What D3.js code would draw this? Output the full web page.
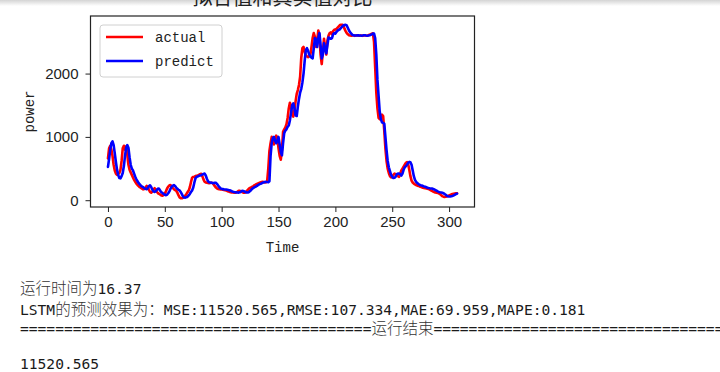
<!DOCTYPE html>
<html>
<head>
<meta charset="utf-8">
<script src="https://cdn.jsdelivr.net/npm/d3@7"></script>
<style>
  body { margin: 0; background: #fff; }
  svg { display: block; }
  .tick text { font-family: "Liberation Sans", Arial, sans-serif; font-size: 15px; fill: #222; }
  .tick line { stroke: #222; }
  .mono { font-family: "Liberation Mono", "DejaVu Sans Mono", monospace; font-size: 14px; fill: #222; }
  .out-ascii { font-family: "DejaVu Sans Mono", monospace; font-size: 14.6px; fill: #1a1a1a; }
  .out-cjk { font-family: "Noto Sans CJK SC", sans-serif; font-size: 15.5px; font-weight: 300; fill: #333; }
</style>
</head>
<body>
<svg id="chart" width="720" height="372"></svg>
<script>
// ---- data ----
const actual = [
  660,820,860,800,700,560,470,420,400,410,
  430,480,620,820,860,800,850,720,560,480,
  440,400,360,320,290,262,240,222,205,195,
  182,172,178,200,225,215,165,130,118,135,
  165,190,170,130,110,100,90,75,72,85,
  105,140,185,215,232,240,220,195,175,160,
  150,120,80,45,32,30,42,52,72,98,
  128,152,205,285,355,368,372,382,388,392,
  402,412,418,380,330,292,280,278,272,268,
  272,278,270,248,222,200,185,178,172,170,
  168,166,162,158,155,146,138,132,128,124,
  122,120,118,124,136,150,148,138,128,120,
  118,126,142,162,182,194,204,214,224,238,
  248,256,264,272,280,286,290,286,282,285,
  300,500,780,900,1000,940,880,960,1020,980,
  820,700,640,800,1080,1120,1150,1200,1300,1450,
  1540,1480,1360,1320,1420,1560,1680,1740,1820,1950,
  2250,2400,2420,2340,2290,2270,2260,2270,2300,2420,
  2560,2640,2580,2420,2520,2680,2600,2300,2150,2350,
  2550,2420,2300,2520,2600,2640,2650,2620,2670,2690,
  2695,2705,2725,2745,2765,2770,2772,2760,2710,2670,
  2640,2620,2605,2600,2598,2602,2600,2596,2600,2604,
  2600,2598,2602,2600,2596,2600,2603,2600,2598,2605,
  2612,2620,2630,2635,2500,2100,1700,1450,1300,1280,
  1330,1350,1330,1100,820,620,500,430,380,360,
  370,400,420,410,400,380,370,420,470,500,
  530,560,590,600,570,480,380,310,280,262,
  250,240,232,226,218,212,205,198,192,188,
  186,182,175,166,156,146,136,128,124,120,
  116,108,96,80,64,56,52,55,60,66,
  74,82,90,98,102,106,108,110
];

const predict = [
  526,650,800,900,930,870,740,600,480,400,
  350,345,380,430,540,700,830,870,830,680,
  560,500,470,420,370,330,300,270,250,230,
  215,205,190,180,175,190,220,235,210,170,
  140,130,140,165,185,180,150,125,115,100,
  85,80,90,110,140,180,210,230,238,225,
  200,180,165,155,130,95,60,42,40,48,
  55,75,100,130,155,200,280,350,370,375,
  385,390,395,405,415,420,390,340,300,285,
  280,275,270,272,276,274,255,230,205,188,
  180,175,172,170,168,165,160,158,150,142,
  135,130,126,124,122,120,125,135,147,145,
  138,130,122,121,130,145,165,184,195,205,
  215,225,240,250,258,265,275,282,288,290,
  288,285,300,700,900,980,1000,940,900,940,
  1000,880,760,710,900,1060,1100,1120,1160,1180,
  1260,1380,1500,1530,1450,1340,1330,1480,1600,1700,
  1760,1860,2000,2200,2370,2400,2360,2300,2270,2250,
  2240,2400,2560,2540,2420,2560,2640,2450,2240,2300,
  2480,2400,2320,2450,2570,2560,2550,2560,2620,2640,
  2630,2660,2680,2690,2700,2720,2740,2760,2765,2770,
  2760,2720,2680,2650,2630,2610,2605,2600,2600,2600,
  2605,2600,2600,2598,2600,2605,2604,2600,2598,2600,
  2605,2610,2620,2630,2630,2560,2300,1900,1650,1400,
  1280,1230,1220,1210,1000,790,620,520,460,400,
  370,350,355,370,410,420,420,410,390,420,
  480,520,540,560,590,605,600,560,470,380,
  320,290,270,255,245,237,232,225,218,212,
  205,198,192,188,186,184,178,170,160,150,
  140,131,126,122,118,110,100,85,70,63,
  58,60,64,68,75,85,95,105
];

const xTicks = [0, 50, 100, 150, 200, 250, 300];
const yTicks = [0, 1000, 2000];
const seriesNames = ['actual', 'predict'];
const seriesColors = ['#ff0000', '#0000ff'];
const titleText = '拟合值和真实值对比';
const xLabel = 'Time';
const yLabel = 'power';

// console output under the figure: [text, kind] segments per line
const outputLines = [
  [['运行时间为', 'cjk'], ['16.37', 'ascii']],
  [['LSTM', 'ascii'], ['的预测效果为：', 'cjk'], ['MSE:11520.565,RMSE:107.334,MAE:69.959,MAPE:0.181', 'ascii']],
  [['='.repeat(40), 'ascii'], ['运行结束', 'cjk'], ['='.repeat(40), 'ascii']],
  [],
  [['11520.565', 'ascii']]
];

// ---- layout ----
const svg = d3.select('#chart');
const plot = { left: 90.5, right: 474.5, top: 16, bottom: 207 };

// faint grey band at the very top (window edge shadow)
const defs = svg.append('defs');
const grad = defs.append('linearGradient').attr('id', 'topShade')
  .attr('x1', 0).attr('y1', 0).attr('x2', 0).attr('y2', 1);
grad.append('stop').attr('offset', '0%').attr('stop-color', '#d4d4d4');
grad.append('stop').attr('offset', '100%').attr('stop-color', '#ffffff');
svg.append('rect').attr('x', 0).attr('y', 0).attr('width', 720).attr('height', 6)
  .attr('fill', 'url(#topShade)');

const n = actual.length;
const xPad = (n - 1) * 0.05;
const x = d3.scaleLinear().domain([-xPad, n - 1 + xPad]).range([plot.left, plot.right]);

const ext = d3.extent(actual.concat(predict));
const yPad = (ext[1] - ext[0]) * 0.05;
const y = d3.scaleLinear().domain([ext[0] - yPad, ext[1] + yPad]).range([plot.bottom, plot.top]);

// title (mostly cut off by the top edge)
svg.append('text')
  .attr('x', (plot.left + plot.right) / 2).attr('y', 5)
  .attr('text-anchor', 'middle')
  .style('font-family', '"Noto Sans CJK SC", sans-serif')
  .style('font-size', '20px').style('fill', '#222')
  .text(titleText);

// axes
const xAxis = svg.append('g').attr('transform', `translate(0,${plot.bottom})`)
  .call(d3.axisBottom(x).tickValues(xTicks).tickFormat(d3.format('d')).tickSize(5).tickPadding(4));
const yAxis = svg.append('g').attr('transform', `translate(${plot.left},0)`)
  .call(d3.axisLeft(y).tickValues(yTicks).tickFormat(d3.format('d')).tickSize(5).tickPadding(7));
xAxis.select('.domain').remove();
yAxis.select('.domain').remove();

// lines, clipped to the axes box
defs.append('clipPath').attr('id', 'plotClip').append('rect')
  .attr('x', plot.left).attr('y', plot.top)
  .attr('width', plot.right - plot.left).attr('height', plot.bottom - plot.top);

const line = d3.line().x((d, i) => x(i)).y(d => y(d));
const g = svg.append('g').attr('clip-path', 'url(#plotClip)');
[actual, predict].forEach((s, k) => {
  g.append('path').datum(s)
    .attr('d', line)
    .attr('fill', 'none')
    .attr('stroke', seriesColors[k])
    .attr('stroke-width', 2.6)
    .attr('stroke-linejoin', 'round')
    .attr('stroke-linecap', 'round');
});

// frame
svg.append('rect')
  .attr('x', plot.left).attr('y', plot.top)
  .attr('width', plot.right - plot.left).attr('height', plot.bottom - plot.top)
  .attr('fill', 'none').attr('stroke', '#222').attr('stroke-width', 1.2);

// axis labels
svg.append('text').attr('class', 'mono')
  .attr('x', (plot.left + plot.right) / 2).attr('y', 252)
  .attr('text-anchor', 'middle').text(xLabel);
svg.append('text').attr('class', 'mono')
  .attr('transform', `translate(34,${(plot.top + plot.bottom) / 2}) rotate(-90)`)
  .attr('text-anchor', 'middle').text(yLabel);

// legend
const leg = svg.append('g').attr('transform', 'translate(100,25)');
leg.append('rect').attr('width', 122).attr('height', 52).attr('rx', 3)
  .attr('fill', '#fff').attr('fill-opacity', 0.8)
  .attr('stroke', '#d0d0d0').attr('stroke-width', 1);
seriesNames.forEach((name, k) => {
  const ly = 12 + k * 24;
  leg.append('line').attr('x1', 6).attr('x2', 43).attr('y1', ly).attr('y2', ly)
    .attr('stroke', seriesColors[k]).attr('stroke-width', 2.6);
  leg.append('text').attr('class', 'mono').attr('x', 55).attr('y', ly + 5).text(name);
});

// printed output below the figure
const baselines = [294, 315, 334, 352, 369];
outputLines.forEach((segs, i) => {
  if (!segs.length) return;
  const t = svg.append('text').attr('x', 20).attr('y', baselines[i]);
  segs.forEach(([txt, kind]) => {
    t.append('tspan').attr('class', kind === 'cjk' ? 'out-cjk' : 'out-ascii').text(txt);
  });
});
</script>
</body>
</html>
